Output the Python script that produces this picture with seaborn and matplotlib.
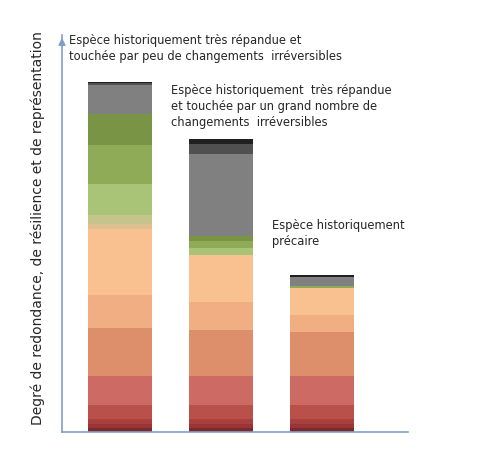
import matplotlib.pyplot as plt
import seaborn as sns
import numpy as np

sns.set_style('white')
plt.rcParams['font.family'] = ['DejaVu Sans']

# segment heights from bottom (arbitrary units), with colours
colours = ['#7a2a2a', '#9a3535', '#a94040', '#b9504a', '#cc6a63', '#dd8f6c',
           '#f0ae82', '#f9c190', '#dcc090', '#c5c48c', '#a9c476', '#8fab58',
           '#7a9446', '#808080', '#505050', '#202020']
bar1 = [12, 11, 15, 42, 88, 143, 100, 197, 15, 25, 93, 117, 95, 85, 6, 4]
bar2 = [12, 11, 15, 42, 88, 138, 84, 141, 0, 0, 20, 20, 17, 243, 32, 15]
bar3 = [12, 11, 15, 42, 88, 130, 52, 81, 0, 0, 0, 5, 0, 29, 0, 6]
labels = ["Espèce historiquement très répandue et\ntouchée par peu de changements  irréversibles",
          "Espèce historiquement  très répandue\net touchée par un grand nombre de\nchangements  irréversibles",
          "Espèce historiquement\nprécaire"]

fig = plt.figure(figsize=(4.9, 4.57), dpi=100)
ax = fig.add_axes([62/490, 25/457, 346/490, 397/457])
x = np.arange(3)
data = np.array([bar1, bar2, bar3])
bottom = np.zeros(3)
for i, c in enumerate(colours):
    ax.bar(x, data[:, i], bottom=bottom, width=0.63, color=c, linewidth=0)
    bottom += data[:, i]

ax.set_xlim(-0.574, 2.85)
ax.set_ylim(0, 1188)
ax.set_xticks([])
ax.set_yticks([])
for s in ['top', 'right']:
    ax.spines[s].set_visible(False)
for s in ['left', 'bottom']:
    ax.spines[s].set_color('#7f9fc8')
    ax.spines[s].set_linewidth(1.2)
ax.annotate('', xy=(0, 1.0), xytext=(0, 0.97), xycoords='axes fraction',
            arrowprops=dict(arrowstyle='-|>', color='#7f9fc8', lw=1.2))

tops = data.sum(axis=1)
ax.text(-0.5, tops[0] + 55, labels[0], fontsize=8.3, va='bottom', linespacing=1.3)
ax.text(0.5, tops[1] + 30, labels[1], fontsize=8.3, va='bottom', linespacing=1.3)
ax.text(1.5, tops[2] + 80, labels[2], fontsize=8.3, va='bottom', linespacing=1.3)

fig.text(38/490, 0.5, 'Degré de redondance, de résilience et de représentation',
         rotation=90, fontsize=10, ha='center', va='center')
fig.savefig('out.png', dpi=100)
